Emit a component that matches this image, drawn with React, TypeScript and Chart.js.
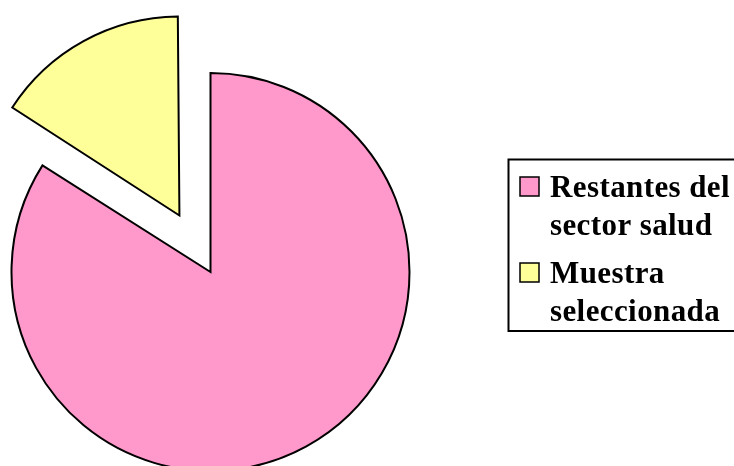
import React, { useEffect, useRef } from "react";
import { Chart, registerables } from "chart.js";

Chart.register(...registerables);

// ---- data ----
const categories = ["Restantes del sector salud", "Muestra seleccionada"];
const legendLines = [
  ["Restantes del", "sector salud"],
  ["Muestra", "seleccionada"],
];
const values = [84, 16];
const colors = ["#FF99CC", "#FFFF99"];
const explode = [0, 258];

// keep exploded slice radius equal to the others (Chart.js grows it slightly)
const offsetFix = {
  id: "offsetFix",
  afterDatasetUpdate(chart: any, args: any) {
    const meta = args.meta;
    meta.data.forEach((el: any) => {
      const off = ((el.options && el.options.offset) || 0) / 4;
      if (off) {
        const fix = 1 - Math.sin(Math.min(Math.PI, el.circumference || 0));
        el.outerRadius -= off * fix;
      }
    });
  },
};

const boxLegend = {
  id: "boxLegend",
  afterDraw(chart: any) {
    const ctx = chart.ctx as CanvasRenderingContext2D;
    ctx.save();
    ctx.lineWidth = 2;
    ctx.strokeStyle = "#000";
    ctx.strokeRect(508.5, 159.5, 260, 171.5);
    ctx.font = "bold 31px 'Liberation Serif', 'Times New Roman', serif";
    (ctx as any).letterSpacing = "0.4px";
    ctx.textBaseline = "alphabetic";
    ctx.textAlign = "left";
    const textX = 550;
    const firstBaseline = 196.5;
    const lineH = 38;
    const itemGap = 48;
    let base = firstBaseline;
    legendLines.forEach((lines, i) => {
      const size = 19;
      ctx.fillStyle = colors[i];
      ctx.fillRect(520, base - 19.5, size, size);
      ctx.lineWidth = 1.5;
      ctx.strokeStyle = "#000";
      ctx.strokeRect(520, base - 19.5, size, size);
      ctx.fillStyle = "#000";
      lines.forEach((ln, j) => {
        ctx.fillText(ln, textX, base + j * lineH);
      });
      base += (lines.length - 1) * lineH + itemGap;
    });
    ctx.restore();
  },
};

export default function App() {
  const ref = useRef<HTMLCanvasElement | null>(null);
  useEffect(() => {
    if (!ref.current) return;
    const chart = new Chart(ref.current, {
      type: "pie",
      data: {
        labels: categories,
        datasets: [
          {
            data: values,
            backgroundColor: colors,
            borderColor: "#000",
            borderWidth: 2,
            borderJoinStyle: "miter",
            offset: explode,
            clip: false,
          } as any,
        ],
      },
      options: {
        animation: false,
        responsive: false,
        radius: 199,
        layout: { padding: { left: 0, right: 313, top: 78, bottom: 0 } },
        plugins: {
          legend: { display: false },
          tooltip: { enabled: false },
        },
        events: [],
      } as any,
      plugins: [offsetFix, boxLegend],
    });
    return () => chart.destroy();
  }, []);
  return (
    <div style={{ position: "absolute", left: 0, top: 0, width: 734, height: 466, overflow: "hidden", background: "#fff" }}>
      <canvas ref={ref} width={734} height={466} style={{ width: 734, height: 466, display: "block" }} />
    </div>
  );
}
